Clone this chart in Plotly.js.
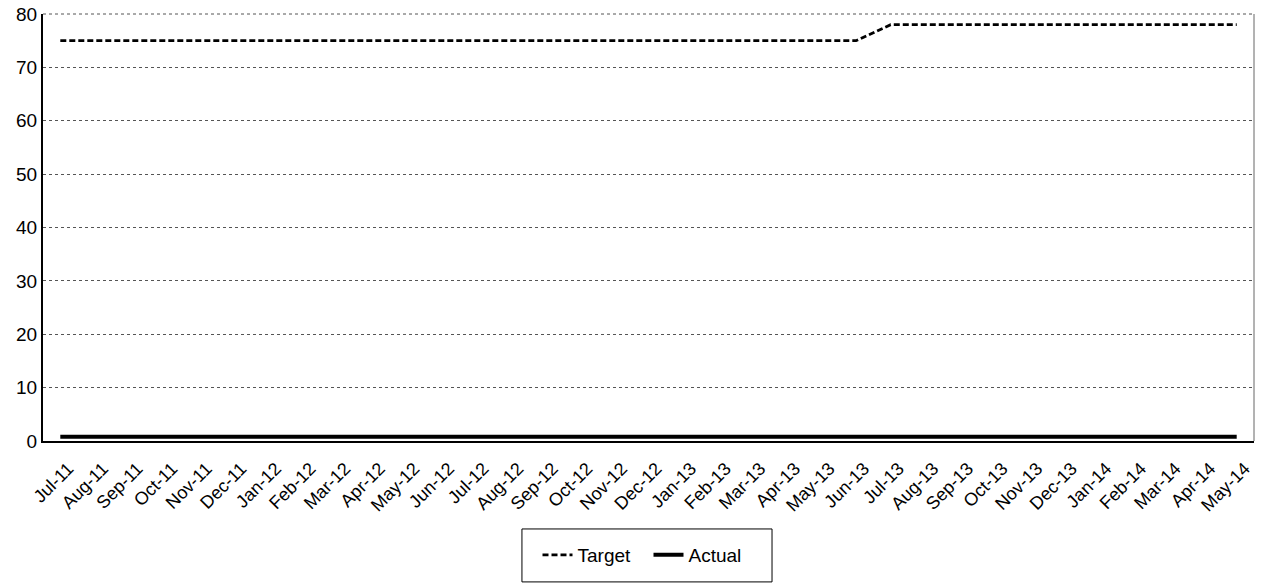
<!DOCTYPE html>
<html>
<head>
<meta charset="utf-8">
<script src="https://cdn.plot.ly/plotly-3.0.1.min.js"></script>
<style>html,body{margin:0;padding:0;background:#fff;}#chart{width:1265px;height:583px;}</style>
</head>
<body>
<div id="chart"></div>
<script>
const months = ["Jul-11","Aug-11","Sep-11","Oct-11","Nov-11","Dec-11","Jan-12","Feb-12","Mar-12","Apr-12","May-12","Jun-12","Jul-12","Aug-12","Sep-12","Oct-12","Nov-12","Dec-12","Jan-13","Feb-13","Mar-13","Apr-13","May-13","Jun-13","Jul-13","Aug-13","Sep-13","Oct-13","Nov-13","Dec-13","Jan-14","Feb-14","Mar-14","Apr-14","May-14"];
const target = [75,75,75,75,75,75,75,75,75,75,75,75,75,75,75,75,75,75,75,75,75,75,75,75,78,78,78,78,78,78,78,78,78,78,78];
const actual = [0.8,0.8,0.8,0.8,0.8,0.8,0.8,0.8,0.8,0.8,0.8,0.8,0.8,0.8,0.8,0.8,0.8,0.8,0.8,0.8,0.8,0.8,0.8,0.8,0.8,0.8,0.8,0.8,0.8,0.8,0.8,0.8,0.8,0.8,0.8];
const yTicks = [0,10,20,30,40,50,60,70,80];

const fam = "Liberation Sans, Arial, sans-serif";
const traces = [
  {x: months, y: target, name: "Target", type: "scatter", mode: "lines",
   line: {color: "#000", width: 2.8, dash: "6px,3px"}},
  {x: months, y: actual, name: "Actual", type: "scatter", mode: "lines",
   line: {color: "#000", width: 4}}
];
const layout = {
  width: 1265, height: 583,
  margin: {l: 43, r: 11, t: 14, b: 142, autoexpand: false},
  paper_bgcolor: "#fff", plot_bgcolor: "#fff",
  font: {family: fam, size: 18, color: "#000"},
  showlegend: true,
  legend: {orientation: "h", x: 0.5, xanchor: "center", y: -0.267, yanchor: "middle",
           bgcolor: "rgba(0,0,0,0)", borderwidth: 0, font: {family: fam, size: 19},
           itemwidth: 30, entrywidth: 66, entrywidthmode: "pixels"},
  xaxis: {type: "category", range: [-0.5, months.length - 0.5], automargin: false,
          tickmode: "array", tickvals: months, ticktext: months,
          tickangle: -45, showgrid: false, showline: true, linecolor: "#000", linewidth: 2,
          ticks: "", ticklabelstandoff: 8, ticklabelshift: 8,
          tickfont: {family: fam, size: 18}, zeroline: false},
  yaxis: {range: [0, 80], tickvals: yTicks, ticktext: yTicks.map(String), automargin: false,
          showgrid: true, gridcolor: "#555", griddash: "dot", gridwidth: 1,
          showline: true, linecolor: "#000", linewidth: 2, ticks: "",
          tickfont: {family: fam, size: 19}, zeroline: false},
  shapes: [
    {type: "line", xref: "paper", yref: "paper", x0: 1, x1: 1, y0: 0, y1: 1,
     line: {color: "#666", width: 1}},
    {type: "line", xref: "paper", yref: "paper", x0: 0, x1: 1, y0: 1, y1: 1,
     line: {color: "#555", width: 1, dash: "dot"}},
    {type: "rect", xref: "paper", yref: "paper", x0: 0.3955, x1: 0.602, y0: -0.206, y1: -0.330,
     line: {color: "#000", width: 1}, fillcolor: "rgba(0,0,0,0)"}
  ]
};
Plotly.newPlot("chart", traces, layout, {displayModeBar: false});
</script>
</body>
</html>
